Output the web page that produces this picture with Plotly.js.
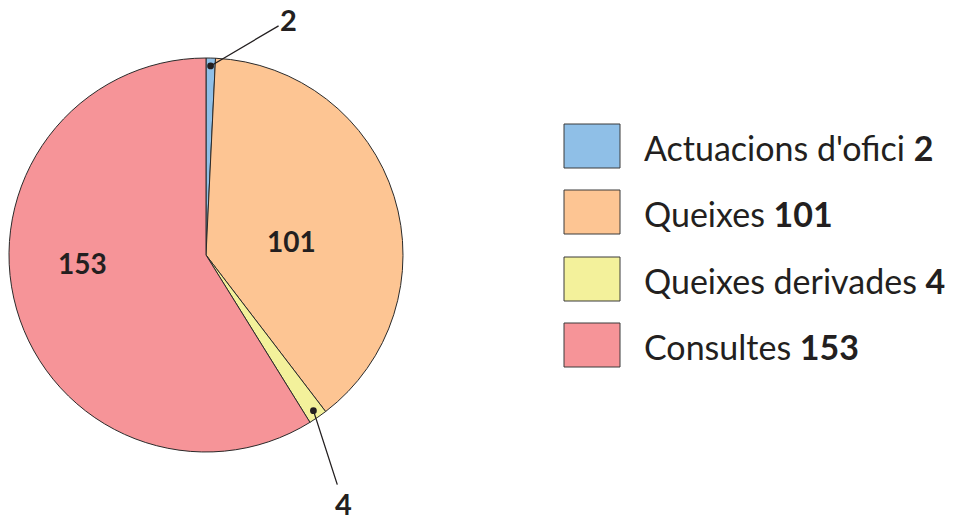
<!DOCTYPE html>
<html>
<head>
<meta charset="utf-8">
<script src="https://cdn.plot.ly/plotly-3.0.1.min.js"></script>
<style>html,body{margin:0;padding:0;background:#fff;}#chart{width:955px;height:520px;}</style>
</head>
<body>
<div id="chart"></div>
<script>
const categories = ["Actuacions d'ofici", "Queixes", "Queixes derivades", "Consultes"];
const values = [2, 101, 4, 153];
const colors = ["#8fbfe7", "#fdc593", "#f3f19b", "#f69498"];

const W = 955, H = 520;
const FONT = "Lato";
const INK = '#231f20';
// pie placement (pixels)
const cx = 206, cy = 255, R = 197;
const domX = [(cx - R) / W, (cx + R) / W];
const domY = [(H - cy - R) / H, (H - cy + R) / H];

const total = values.reduce((a, b) => a + b, 0);
const isSmall = values.map(v => v / total < 0.05);

const trace = {
  type: 'pie',
  labels: categories,
  values: values,
  sort: false,
  direction: 'clockwise',
  rotation: 0,
  marker: {colors: colors, line: {color: '#2a2a2a', width: 1}},
  textinfo: 'none',
  hoverinfo: 'label+value',
  showlegend: false,
  domain: {x: domX, y: domY}
};

const annotations = [];
const shapes = [];

// label placement styles: leader offsets (px) for small slices,
// angle shift (deg) and radius fraction for inside labels
const leaderOffsets = {0: [78, -46], 2: [30, 93]};
const insidePlace = {1: [8, 0.44], 3: [12, 0.63]};
let cum = 0;
values.forEach((v, i) => {
  const midDeg = (cum + v / 2) / total * 360;
  cum += v;
  if (isSmall[i]) {
    const mid = midDeg * Math.PI / 180;
    const rr = 0.96 * R;
    const px = cx + rr * Math.sin(mid);
    const py = cy - rr * Math.cos(mid);
    const off = leaderOffsets[i];
    annotations.push({
      xref: 'paper', yref: 'paper',
      x: px / W, y: 1 - py / H,
      text: '<b>' + v + '</b>',
      showarrow: true, arrowhead: 6, arrowsize: 1.3, arrowwidth: 1.3, arrowcolor: INK,
      ax: off[0], ay: off[1],
      font: {family: FONT, size: 29, color: INK}
    });
  } else {
    const p = insidePlace[i];
    const a = (midDeg + p[0]) * Math.PI / 180;
    const rr = p[1] * R;
    annotations.push({
      xref: 'paper', yref: 'paper',
      x: (cx + rr * Math.sin(a)) / W, y: 1 - (cy - rr * Math.cos(a)) / H,
      xanchor: 'center', yanchor: 'middle',
      text: '<b>' + v + '</b>', showarrow: false,
      font: {family: FONT, size: 28, color: INK}
    });
  }
});

// custom legend
const boxX0 = 564, boxX1 = 620, boxH = 44, rowTop = [124, 190, 257, 323];
categories.forEach((c, i) => {
  shapes.push({
    type: 'rect', xref: 'paper', yref: 'paper',
    x0: boxX0 / W, x1: boxX1 / W,
    y0: 1 - (rowTop[i] + boxH) / H, y1: 1 - rowTop[i] / H,
    fillcolor: colors[i], line: {color: '#3a3a3a', width: 1}
  });
  annotations.push({
    xref: 'paper', yref: 'paper',
    x: 642 / W, y: 1 - (rowTop[i] + boxH / 2 + 1) / H,
    xanchor: 'left', yanchor: 'middle',
    text: c + ' <b>' + values[i] + '</b>',
    showarrow: false,
    font: {family: FONT, size: 34, color: INK}
  });
});

const layout = {
  width: W, height: H,
  margin: {l: 0, r: 0, t: 0, b: 0},
  paper_bgcolor: '#ffffff',
  showlegend: false,
  shapes: shapes,
  annotations: annotations
};

Plotly.newPlot('chart', [trace], layout, {displayModeBar: false, staticPlot: true});
</script>
</body>
</html>
